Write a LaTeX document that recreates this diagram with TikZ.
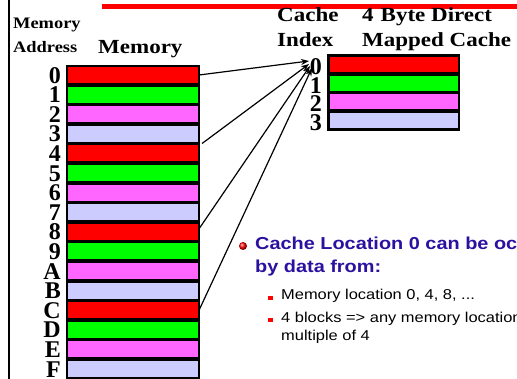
\documentclass[tikz,border=0pt]{standalone}
\usepackage{fontspec}
\setmainfont[FakeStretch=1.15]{Liberation Serif}
\setsansfont[FakeStretch=1.15]{Liberation Sans}
\newfontfamily\labelfont{Liberation Serif}
\usetikzlibrary{arrows.meta}
\definecolor{blkred}{RGB}{255,0,0}
\definecolor{blkgreen}{RGB}{0,255,0}
\definecolor{blkpink}{RGB}{255,102,255}
\definecolor{blklav}{RGB}{204,204,255}
\definecolor{titleblue}{RGB}{44,16,160}
\begin{document}
\begin{tikzpicture}[x=1pt,y=-1pt,
  memblock/.style={draw=black, line width=1.8pt, minimum width=132.3pt,
    minimum height=17.8pt, inner sep=0pt, outer sep=0pt},
  cacheblock/.style={draw=black, line width=2.5pt, minimum width=130.5pt,
    minimum height=17.5pt, inner sep=0pt, outer sep=0pt},
  addr/.style={anchor=base east, inner sep=0pt,
    font=\labelfont\bfseries\fontsize{24}{24}\selectfont},
  head/.style={anchor=base west, inner sep=0pt,
    font=\bfseries\fontsize{20}{20}\selectfont},
  smallhead/.style={anchor=base west, inner sep=0pt,
    font=\bfseries\fontsize{16}{16}\selectfont},
  bigpoint/.style={anchor=base west, inner sep=0pt, text=titleblue,
    font=\sffamily\bfseries\fontsize{17.3}{20}\selectfont},
  subpoint/.style={anchor=base west, inner sep=0pt,
    font=\sffamily\fontsize{14.3}{17}\selectfont},
  conn/.style={draw=black, line width=1.2pt,
    -{Stealth[length=8pt,width=6pt]}}
]
\useasboundingbox (0,0) rectangle (517,379);
\clip (0,0) rectangle (517,379);

% slide frame: left rule and red title bar
\draw[line width=2pt] (9,0) -- (9,379);
\fill[blkred] (102,4) rectangle (517,9);

% headings
\node[smallhead] (hmem) at (13,29) {Memory};
\node[smallhead] (haddr) at (13,53) {Address};
\node[head] (hmemory) at (98,54) {Memory};
\node[head] (hcache) at (277,22) {Cache};
\node[head] (hindex) at (277,47) {Index};
\node[head] (hbyte) at (362,22) {4\hspace{7pt}Byte Direct};
\node[head] (hmapped) at (362,47) {Mapped Cache};

% memory blocks 0..F
\foreach \i/\lab/\col in {0/0/blkred,1/1/blkgreen,2/2/blkpink,3/3/blklav,
    4/4/blkred,5/5/blkgreen,6/6/blkpink,7/7/blklav,
    8/8/blkred,9/9/blkgreen,10/A/blkpink,11/B/blklav,
    12/C/blkred,13/D/blkgreen,14/E/blkpink,15/F/blklav}{
  \node[memblock, fill=\col] (m\i) at (132.9,{75+19.6*\i}) {};
  \node[addr] (a\i) at (61,{75+19.6*\i+8.2}) {\lab};
}

% cache blocks 0..3
\foreach \i/\col in {0/blkred,1/blkgreen,2/blkpink,3/blklav}{
  \node[cacheblock, fill=\col] (c\i) at (393.7,{64.2+18.9*\i}) {};
  \node[addr] (ci\i) at (322,{64.2+18.9*\i+10}) {\i};
}

% mapping of blocks 0, 4, 8, C onto cache index 0
\coordinate (t0) at (309,61);
\coordinate (t4) at (309,64);
\coordinate (t8) at (310,66);
\coordinate (t12) at (312,68);
\draw[conn] (m0.east) -- (t0);
\draw[conn] ([xshift=3pt,yshift=1pt]m4.north east) -- (t4);
\draw[conn] ([yshift=3pt]m8.east) -- (t8);
\draw[conn] (m12.east) -- (t12);

% bullet text
\shade[ball color=red] (243,246) circle (4);
\node[bigpoint] (p1) at (255,249.3) {Cache Location 0 can be occupied};
\node[bigpoint] (p2) at (255,273) {by data from:};
\fill[blkred] (268,296) rectangle (272.5,300.5);
\node[subpoint] (s1) at (281,300) {Memory location 0, 4, 8, ...};
\fill[blkred] (268,318) rectangle (272.5,322.5);
\node[subpoint] (s2) at (281,323) {4 blocks => any memory location that is};
\node[subpoint] (s3) at (281,341) {multiple of 4};
\end{tikzpicture}
\end{document}
